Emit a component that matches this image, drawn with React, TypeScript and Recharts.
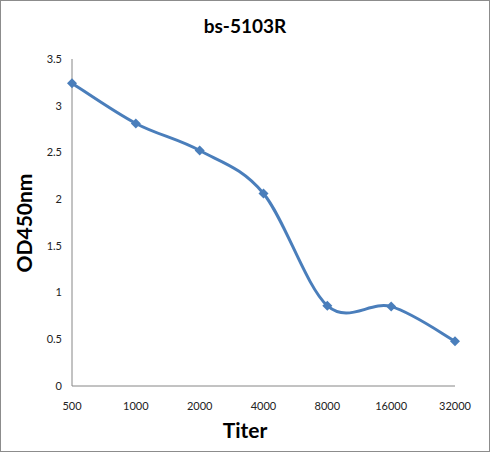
import React from 'react';
import { LineChart, Line, XAxis, YAxis } from 'recharts';

const titers = ['500', '1000', '2000', '4000', '8000', '16000', '32000'];
const od450 = [3.24, 2.81, 2.52, 2.06, 0.86, 0.85, 0.48];
const yTicks = [0, 0.5, 1, 1.5, 2, 2.5, 3, 3.5];

const data = titers.map((t, i) => ({ titer: t, od: od450[i] }));

// smoothing like a spreadsheet "smoothed line" (Catmull-Rom as Bezier)
const smoothCurve = (context: any) => {
  let pts: number[][] = [];
  return {
    areaStart() {},
    areaEnd() {},
    lineStart() {
      pts = [];
    },
    point(x: number, y: number) {
      pts.push([+x, +y]);
    },
    lineEnd() {
      if (!pts.length) return;
      context.moveTo(pts[0][0], pts[0][1]);
      for (let i = 0; i < pts.length - 1; i++) {
        const p0 = pts[i - 1] || pts[i];
        const p1 = pts[i];
        const p2 = pts[i + 1];
        const p3 = pts[i + 2] || p2;
        context.bezierCurveTo(
          p1[0] + (p2[0] - p0[0]) / 6,
          p1[1] + (p2[1] - p0[1]) / 6,
          p2[0] - (p3[0] - p1[0]) / 6,
          p2[1] - (p3[1] - p1[1]) / 6,
          p2[0],
          p2[1]
        );
      }
    },
  };
};

const Diamond = (props: any) => {
  const { cx, cy } = props;
  if (cx == null || cy == null) return null;
  const r = 5;
  return (
    <path
      d={`M${cx},${cy - r} L${cx + r},${cy} L${cx},${cy + r} L${cx - r},${cy} Z`}
      fill="#4A7EBB"
    />
  );
};

const font = 'Lato, "Open Sans", sans-serif';

export default function App() {
  return (
    <div
      style={{
        position: 'absolute',
        left: 0,
        top: 0,
        width: 490,
        height: 452,
        border: '1px solid #8c8c8c',
        boxSizing: 'border-box',
        background: '#fff',
        fontFamily: font,
      }}
    >
      <div
        style={{
          position: 'absolute',
          left: 0,
          width: 488,
          top: 13,
          textAlign: 'center',
          fontWeight: 'bold',
          fontSize: 19,
        }}
      >
        bs-5103R
      </div>
      <div
        style={{
          position: 'absolute',
          left: 0,
          width: 488,
          top: 416,
          textAlign: 'center',
          fontWeight: 'bold',
          fontSize: 21,
        }}
      >
        Titer
      </div>
      <div
        style={{
          position: 'absolute',
          left: 22,
          top: 222,
          transform: 'translate(-50%, -50%) rotate(-90deg)',
          fontWeight: 'bold',
          fontSize: 21,
          whiteSpace: 'nowrap',
        }}
      >
        OD450nm
      </div>
      <div style={{ position: 'absolute', left: -1, top: -1 }}>
        <LineChart
          width={490}
          height={452}
          data={data}
          margin={{ top: 59, right: 35, left: 0, bottom: 0 }}
        >
          <XAxis
            dataKey="titer"
            height={66}
            axisLine={{ stroke: '#868686', strokeWidth: 1 }}
            tickLine={false}
            tickSize={0}
            tickMargin={16}
            tick={{ fill: '#222', fontSize: 11, fontFamily: font }}
            interval={0}
          />
          <YAxis
            width={72}
            domain={[0, 3.5]}
            ticks={yTicks}
            axisLine={{ stroke: '#868686', strokeWidth: 1 }}
            tickLine={false}
            tickSize={0}
            tickMargin={10}
            tick={{ fill: '#222', fontSize: 11, fontFamily: font }}
            interval={0}
          />
          <Line
            dataKey="od"
            type={smoothCurve as any}
            stroke="#4A7EBB"
            strokeWidth={3}
            dot={<Diamond />}
            activeDot={false}
            isAnimationActive={false}
          />
        </LineChart>
      </div>
    </div>
  );
}
